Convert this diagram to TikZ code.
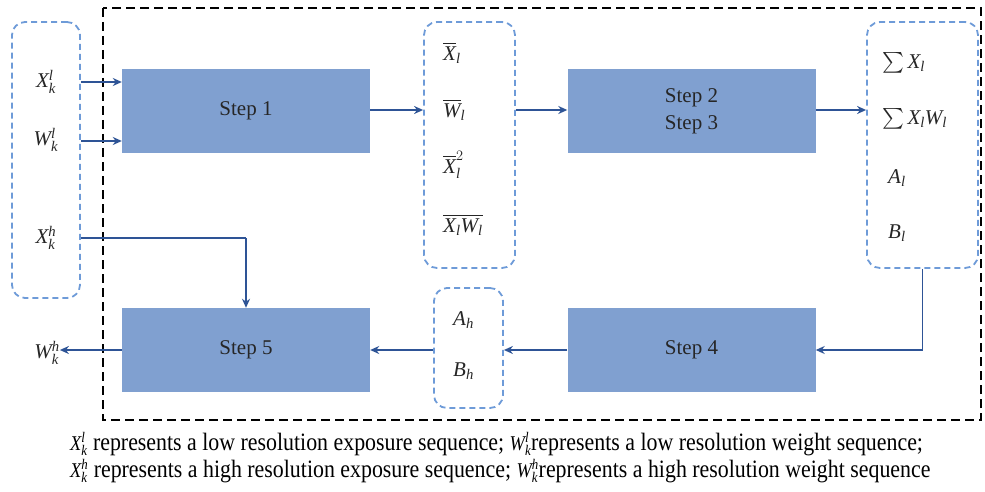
\documentclass[tikz,border=0pt]{standalone}
\usepackage{amsmath}
\usepackage{fontspec}
\setmainfont{Liberation Serif}
\usetikzlibrary{arrows.meta}
\definecolor{boxfill}{RGB}{128,160,208}
\definecolor{arrblue}{RGB}{46,84,150}
\definecolor{dashblue}{RGB}{110,155,216}
\newcommand{\vi}[1]{\mathit{#1}}
\newcommand{\cv}[3]{{\fontsize{21}{22}\selectfont$\vi{#1}_{\vi{#2}}^{\vi{#3}}$}}
\tikzset{
  stepbox/.style={fill=boxfill, draw=none, minimum width=248pt, minimum height=84pt, inner sep=0pt, font=\fontsize{21}{24}\selectfont, align=center, text=black!85},
  groupbox/.style={draw=dashblue, line width=1.8pt, dash pattern=on 6pt off 4pt, rounded corners=13pt, inner sep=0pt},
  lab/.style={inner sep=0pt, font=\fontsize{21}{24}\selectfont, text=black!85},
  arr/.style={draw=arrblue, line width=1.8pt, -{Stealth[length=9pt,width=8pt]}},
  ln/.style={draw=arrblue, line width=1.8pt},
  captext/.style={anchor=base west, inner sep=0pt, font=\fontsize{25}{28}\selectfont},
}
\begin{document}
\begin{tikzpicture}[x=1pt,y=-1pt]
\useasboundingbox (0,0) rectangle (985,492);
% outer dashed frame
\draw[line width=2.4pt, dash pattern=on 9pt off 5pt] (103,8) rectangle (981,420);
% group boxes
\node[groupbox, minimum width=68pt, minimum height=276pt] (lb) at (46,160) {};
\node[groupbox, minimum width=91pt, minimum height=246pt] (b2) at (469.5,145) {};
\node[groupbox, minimum width=111pt, minimum height=246pt] (b3) at (922.5,145) {};
\node[groupbox, minimum width=69pt, minimum height=120pt] (b4) at (468.5,348) {};
% step boxes
\node[stepbox] (s1) at (246,111) {Step 1};
\node[stepbox] (s2) at (691.5,111) {Step 2\\[3pt]Step 3};
\node[stepbox] (s4) at (691.5,350) {Step 4};
\node[stepbox] (s5) at (246,350) {Step 5};
% left labels
\node[lab] (xl) at (46,82) {$\vi{X}_{\vi{k}}^{\vi{l}}$};
\node[lab] (wl) at (46,140) {$\vi{W}_{\vi{k}}^{\vi{l}}$};
\node[lab] (xh) at (46,238) {$\vi{X}_{\vi{k}}^{\vi{h}}$};
\node[lab] (wh) at (47,353) {$\vi{W}_{\vi{k}}^{\vi{h}}$};
% box2 labels
\node[lab, anchor=west] (m1) at (443,53) {$\overline{\vi{X}}_{\vi{l}}$};
\node[lab, anchor=west] (m2) at (443,110) {$\overline{\vi{W}}_{\vi{l}}$};
\node[lab, anchor=west] (m3) at (443,165) {$\overline{\vi{X}}_{\vi{l}}^{2}$};
\node[lab, anchor=west] (m4) at (443,225) {$\overline{\vi{X}_{\vi{l}}\vi{W}_{\vi{l}}}$};
% box3 labels
\node[lab, anchor=west] (r1) at (882,63) {$\textstyle\sum \vi{X}_{\vi{l}}$};
\node[lab, anchor=west] (r2) at (882,119) {$\textstyle\sum \vi{X}_{\vi{l}}\vi{W}_{\vi{l}}$};
\node[lab, anchor=west] (r3) at (888,178) {$\vi{A}_{\vi{l}}$};
\node[lab, anchor=west] (r4) at (888,233) {$\vi{B}_{\vi{l}}$};
% box4 labels
\node[lab, anchor=west] (h1) at (453,320) {$\vi{A}_{\vi{h}}$};
\node[lab, anchor=west] (h2) at (453,371) {$\vi{B}_{\vi{h}}$};
% connectors
\coordinate (ya) at (0,82);
\coordinate (yb) at (0,141);
\coordinate (yc) at (0,238);
\draw[arr] (lb.east |- ya) -- (s1.west |- ya);
\draw[arr] (lb.east |- yb) -- (s1.west |- yb);
\draw[ln] (lb.east |- yc) -- (s5.north |- yc);
\draw[arr] (s5.north |- yc) -- (s5.north);
\coordinate (yd) at (0,110);
\draw[arr] (s1.east |- yd) -- (b2.west |- yd);
\draw[arr] (b2.east |- yd) -- (s2.west |- yd);
\draw[arr] (s2.east |- yd) -- (b3.west |- yd);
\draw[arr] (b3.south) |- (s4.east);
\draw[arr] (s4.west) -- (b4.east |- s4.west);
\draw[arr] (b4.west |- s5.east) -- (s5.east);
\draw[arr] (s5.west) -- (wh.east |- s5.west);
% caption
\node[captext] (c1) at (70,450) {\scalebox{0.875}[1]{\cv{X}{k}{l} represents a low resolution exposure sequence; \cv{W}{k}{l}represents a low resolution weight sequence;}};
\node[captext] (c2) at (70,477) {\scalebox{0.875}[1]{\cv{X}{k}{h} represents a high resolution exposure sequence; \cv{W}{k}{h}represents a high resolution weight sequence}};
\end{tikzpicture}
\end{document}
